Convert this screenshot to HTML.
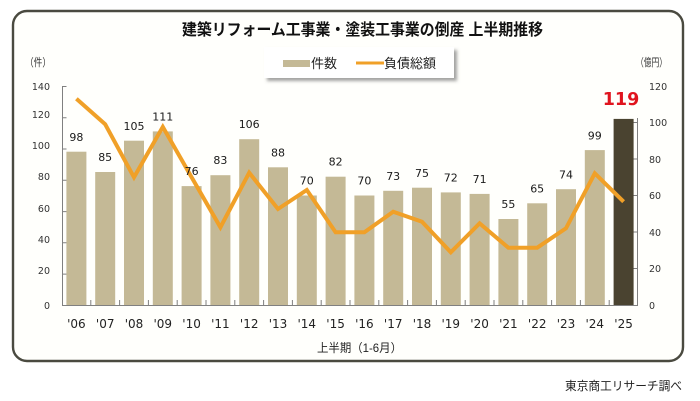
<!DOCTYPE html>
<html><head><meta charset="utf-8"><style>
html,body{margin:0;padding:0;background:#fff;}
svg{display:block;}
.t{font-family:"DejaVu Sans","Liberation Sans",sans-serif;}
.j{font-family:"Liberation Sans","Noto Sans CJK JP",sans-serif;}
</style></head><body>
<svg width="700" height="401" viewBox="0 0 700 401" xmlns="http://www.w3.org/2000/svg">
<defs>
<filter id="sh" x="-10%" y="-30%" width="130%" height="180%">
<feDropShadow dx="3" dy="3" stdDeviation="1.5" flood-color="#555" flood-opacity="0.55"/>
</filter>
</defs>
<rect x="0" y="0" width="700" height="401" fill="#ffffff"/>
<rect x="13" y="11" width="670" height="350" rx="14" ry="14" fill="#fffffc" stroke="#4a4a40" stroke-width="2.4"/>
<text class="j" x="182" y="35" font-size="16" font-weight="bold" fill="#111" textLength="361" lengthAdjust="spacingAndGlyphs">建築リフォーム工事業・塗装工事業の倒産 上半期推移</text>
<rect x="264" y="47" width="190" height="31" fill="#fff" filter="url(#sh)"/>
<rect x="283" y="60" width="27" height="7" fill="#c4b996"/>
<text class="j" x="311" y="68" font-size="13" fill="#222">件数</text>
<line x1="356" y1="63" x2="384" y2="63" stroke="#f0a028" stroke-width="3"/>
<text class="j" x="384" y="68" font-size="13" fill="#222">負債総額</text>
<text class="j" x="25" y="66" font-size="11" fill="#333" textLength="26" lengthAdjust="spacingAndGlyphs">（件）</text>
<text class="j" x="636" y="66" font-size="11" fill="#333" textLength="31" lengthAdjust="spacingAndGlyphs">（億円）</text>
<g class="t" font-size="9.5" fill="#333" text-anchor="end">
<text x="50" y="309">0</text><text x="50" y="274">20</text><text x="50" y="243">40</text><text x="50" y="212">60</text><text x="50" y="180">80</text><text x="50" y="149">100</text><text x="50" y="118">120</text><text x="50" y="90">140</text>
</g>
<g class="t" font-size="9.5" fill="#333">
<text x="649" y="309">0</text><text x="649" y="272">20</text><text x="649" y="236">40</text><text x="649" y="199">60</text><text x="649" y="163">80</text><text x="649" y="126">100</text><text x="649" y="90">120</text>
</g>
<g stroke="#808080" stroke-width="1" fill="none">
<line x1="62.5" y1="86" x2="62.5" y2="305.5"/>
<line x1="62" y1="305.5" x2="638" y2="305.5"/>
<line x1="637.5" y1="118" x2="637.5" y2="305.5"/>
<path d="M62.5 86.5h4M62.5 117.8h4M62.5 149h4M62.5 180.3h4M62.5 211.6h4M62.5 242.8h4M62.5 274.1h4"/>
<path d="M637.5 122.5h-4M637.5 159h-4M637.5 195.5h-4M637.5 232h-4M637.5 268.5h-4"/>
<path d="M90.8 305v-5M119.6 305v-5M148.4 305v-5M177.2 305v-5M206 305v-5M234.8 305v-5M263.6 305v-5M292.4 305v-5M321.2 305v-5M350 305v-5M378.8 305v-5M407.6 305v-5M436.4 305v-5M465.2 305v-5M494 305v-5M522.8 305v-5M551.6 305v-5M580.4 305v-5M609.2 305v-5"/>
</g>
<g fill="#c4b996">
<rect x="66.4" y="151.7" width="20" height="153.3"/>
<rect x="95.2" y="172" width="20" height="133"/>
<rect x="124" y="140.7" width="20" height="164.3"/>
<rect x="152.8" y="131.4" width="20" height="173.6"/>
<rect x="181.6" y="186.1" width="20" height="118.9"/>
<rect x="210.4" y="175.2" width="20" height="129.8"/>
<rect x="239.2" y="139.2" width="20" height="165.8"/>
<rect x="268" y="167.3" width="20" height="137.7"/>
<rect x="296.8" y="195.5" width="20" height="109.5"/>
<rect x="325.6" y="176.7" width="20" height="128.3"/>
<rect x="354.4" y="195.5" width="20" height="109.5"/>
<rect x="383.2" y="190.8" width="20" height="114.2"/>
<rect x="412" y="187.7" width="20" height="117.3"/>
<rect x="440.8" y="192.4" width="20" height="112.6"/>
<rect x="469.6" y="193.9" width="20" height="111.1"/>
<rect x="498.4" y="219" width="20" height="86"/>
<rect x="527.2" y="203.3" width="20" height="101.7"/>
<rect x="556" y="189.2" width="20" height="115.8"/>
<rect x="584.8" y="150.1" width="20" height="154.9"/>
</g>
<rect x="613.6" y="118.9" width="20" height="186.1" fill="#4a4330"/>
<polyline fill="none" stroke="#f0a028" stroke-width="4" stroke-linejoin="miter" stroke-linecap="butt" points="76.4,98.8 105.2,124.3 134,177.3 162.8,126.9 191.6,177.3 220.4,227.3 249.2,172.7 278,209 306.8,190 335.6,232.3 364.4,232.3 393.2,211.7 422,221.7 450.8,252.3 479.6,223.3 508.4,247.7 537.2,247.7 566,228.3 594.8,173.3 623.6,201.7"/>
<g class="t" font-size="11" fill="#1a1a1a" text-anchor="middle">
<text x="76.4" y="141">98</text>
<text x="105.2" y="161">85</text>
<text x="134" y="130">105</text>
<text x="162.8" y="120.5">111</text>
<text x="191.6" y="175">76</text>
<text x="220.4" y="164">83</text>
<text x="249.2" y="128">106</text>
<text x="278" y="156.5">88</text>
<text x="306.8" y="184.5">70</text>
<text x="335.6" y="165.5">82</text>
<text x="364.4" y="184.5">70</text>
<text x="393.2" y="180">73</text>
<text x="422" y="177">75</text>
<text x="450.8" y="181.5">72</text>
<text x="479.6" y="183">71</text>
<text x="508.4" y="208">55</text>
<text x="537.2" y="192.5">65</text>
<text x="566" y="178.5">74</text>
<text x="594.8" y="139.5">99</text>
</g>
<text class="t" x="621" y="105" font-size="17.5" font-weight="bold" fill="#e0141e" text-anchor="middle">119</text>
<g class="t" font-size="12" fill="#222" text-anchor="middle">
<text x="76.4" y="328">'06</text><text x="105.2" y="328">'07</text><text x="134" y="328">'08</text><text x="162.8" y="328">'09</text><text x="191.6" y="328">'10</text><text x="220.4" y="328">'11</text><text x="249.2" y="328">'12</text><text x="278" y="328">'13</text><text x="306.8" y="328">'14</text><text x="335.6" y="328">'15</text><text x="364.4" y="328">'16</text><text x="393.2" y="328">'17</text><text x="422" y="328">'18</text><text x="450.8" y="328">'19</text><text x="479.6" y="328">'20</text><text x="508.4" y="328">'21</text><text x="537.2" y="328">'22</text><text x="566" y="328">'23</text><text x="594.8" y="328">'24</text><text x="623.6" y="328">'25</text>
</g>
<text class="j" x="317" y="352" font-size="12" fill="#222" textLength="85" lengthAdjust="spacingAndGlyphs">上半期（1-6月）</text>
<text class="j" x="565" y="390" font-size="12" fill="#222" textLength="117" lengthAdjust="spacingAndGlyphs">東京商工リサーチ調べ</text>
</svg>
</body></html>
